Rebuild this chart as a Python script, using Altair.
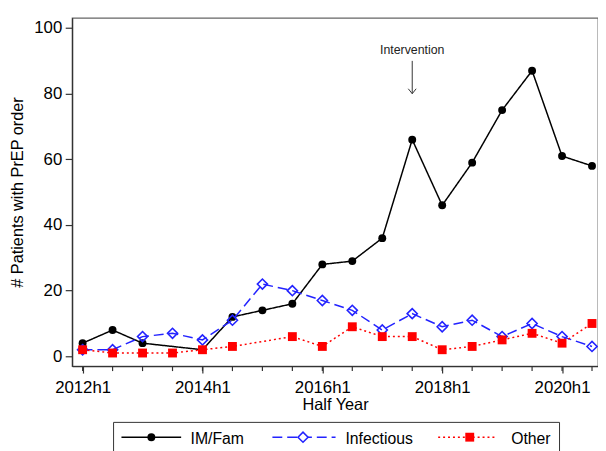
import json
import altair as alt
import pandas as pd

periods = ['2012h1', '2012h2', '2013h1', '2013h2', '2014h1', '2014h2',
           '2015h1', '2015h2', '2016h1', '2016h2', '2017h1', '2017h2',
           '2018h1', '2018h2', '2019h1', '2019h2', '2020h1', '2020h2']
im_fam = [4, 8, 4, None, 2, 12, 14, 16, 28, 29, 36, 66, 46, 59, 75, 87, 61, 58]
infectious = [2, 2, 6, 7, 5, 11, 22, 20, 17, 14, 8, 13, 9, 11, 6, 10, 6, 3]
other = [2, 1, 1, 1, 2, 3, None, 6, 3, 9, 6, 6, 2, 3, 5, 7, 4, 10]

series_names = ['IM/Fam', 'Infectious', 'Other']
series_values = [im_fam, infectious, other]
series_colors = ['#000000', '#2323ff', '#ff0000']
series_shapes = ['circle', 'diamond', 'square']
series_filled = [True, False, True]
series_sizes = [64, 105, 81]
series_dash = [[1, 0], [10, 5], [2, 3]]

x_label_values = [0, 4, 8, 12, 16]
y_tick_values = [0, 20, 40, 60, 80, 100]

annot_period = '2017h2'
annot_text = 'Intervention'
annot_text_y = 92
arrow_top = 90
arrow_tip = 80

FONT = 'Liberation Sans'
W, H = 533, 353

rows = []
for name, vals in zip(series_names, series_values):
    for i, (p, v) in enumerate(zip(periods, vals)):
        if v is not None:
            rows.append({'idx': i, 'period': p, 'series': name, 'value': v})
df = pd.DataFrame(rows)

ticks_df = pd.DataFrame({'idx': list(range(len(periods)))})

label_expr = json.dumps(periods) + '[datum.value]'

x_enc = alt.X('idx:Q',
              scale=alt.Scale(domain=[-0.35, 17.2], nice=False, zero=False),
              axis=alt.Axis(values=x_label_values, labelExpr=label_expr,
                            tickSize=7, labelPadding=7, labelFontSize=17,
                            labelOverlap=False, labelFlush=False,
                            title='Half Year', titleFontSize=16.5,
                            titleFontWeight='normal', titleY=44,
                            titleBaseline='alphabetic', grid=False,
                            domainColor='#333', tickColor='#333',
                            domainWidth=1.3, tickWidth=1.2,
                            labelColor='#000', titleColor='#000'))
y_enc = alt.Y('value:Q',
              scale=alt.Scale(domain=[-3, 103.1], nice=False, zero=False),
              axis=alt.Axis(values=y_tick_values, tickSize=7, labelPadding=3.5,
                            labelFontSize=17, title='# Patients with PrEP order',
                            titleFontSize=16.5, titleFontWeight='normal',
                            titleX=-55, titleY=H / 2, titleBaseline='middle',
                            titleAlign='center', grid=False,
                            domainColor='#333', tickColor='#333',
                            domainWidth=1.3, tickWidth=1.2,
                            labelColor='#000', titleColor='#000'))

layers = []

# minor ticks on x axis (one per half-year)
minor = alt.Chart(ticks_df).mark_rule(color='#333', strokeWidth=1.2).encode(
    x=alt.X('idx:Q'), y=alt.value(H), y2=alt.value(H + 5))
layers.append(minor)

for name, color, shape, filled, size, dash in zip(series_names, series_colors,
                                                  series_shapes, series_filled,
                                                  series_sizes, series_dash):
    base = alt.Chart(df).transform_filter(alt.datum.series == name)
    line = base.mark_line(color=color, strokeWidth=1.5, strokeDash=dash).encode(
        x=x_enc, y=y_enc, order='idx:Q')
    pts = base.mark_point(shape=shape, filled=filled, size=size, color=color,
                          strokeWidth=1.6, opacity=1).encode(x='idx:Q', y='value:Q')
    layers += [line, pts]

annot_df = pd.DataFrame({'idx': [periods.index(annot_period)],
                         'ty': [annot_text_y], 'top': [arrow_top],
                         'tip': [arrow_tip], 'label': [annot_text]})
annot_text_layer = alt.Chart(annot_df).mark_text(
    font=FONT, fontSize=12.5, color='#222', baseline='alphabetic', align='center'
).encode(x='idx:Q', y='ty:Q', text='label:N')
annot_rule = alt.Chart(annot_df).mark_rule(color='#333', strokeWidth=1).encode(
    x='idx:Q', y='top:Q', y2='tip:Q')
annot_head = alt.Chart(annot_df).mark_point(
    shape='M-0.8,-1L0,0L0.8,-1', filled=False, size=100, color='#333',
    strokeWidth=1, opacity=1).encode(x='idx:Q', y='tip:Q')
layers += [annot_text_layer, annot_rule, annot_head]

# legend box (drawn below the plot, partly cut off like the reference)
one = pd.DataFrame({'k': [0]})
legend_box = alt.Chart(one).mark_rect(fill='white', stroke='#333', strokeWidth=1).encode(
    x=alt.value(42), x2=alt.value(494), y=alt.value(410), y2=alt.value(475))
layers.append(legend_box)

leg_pos = [(50, 110.5, 80.3, 120), (203, 267, 234, 277), (371, 431, 403, 445)]
leg_y = 425
for name, color, shape, filled, size, dash, (x1, x2, xm, xt) in zip(
        series_names, series_colors, series_shapes, series_filled,
        series_sizes, series_dash, leg_pos):
    ld = pd.DataFrame({'series': [name]})
    lr = alt.Chart(ld).mark_rule(color=color, strokeWidth=1.5, strokeDash=dash).encode(
        x=alt.value(x1), x2=alt.value(x2), y=alt.value(leg_y))
    lp = alt.Chart(ld).mark_point(shape=shape, filled=filled, size=size, color=color,
                                  strokeWidth=1.6, opacity=1,
                                  fill='white' if not filled else color).encode(
        x=alt.value(xm), y=alt.value(leg_y))
    lt = alt.Chart(ld).mark_text(font=FONT, fontSize=16, color='#000', align='left',
                                 baseline='alphabetic').encode(
        x=alt.value(xt), y=alt.value(leg_y + 6.5), text='series:N')
    layers += [lr, lp, lt]

chart = alt.layer(*layers).properties(
    width=W, height=H,
    autosize=alt.AutoSizeParams(type='none'),
    padding={'left': 65, 'top': 7, 'right': 0, 'bottom': 83},
).configure_view(
    stroke='#666', strokeWidth=1.3
).configure_axis(
    labelFont=FONT, titleFont=FONT
).configure_text(font=FONT)

chart.save('out.html', embed_options={'renderer': 'svg', 'actions': False})
